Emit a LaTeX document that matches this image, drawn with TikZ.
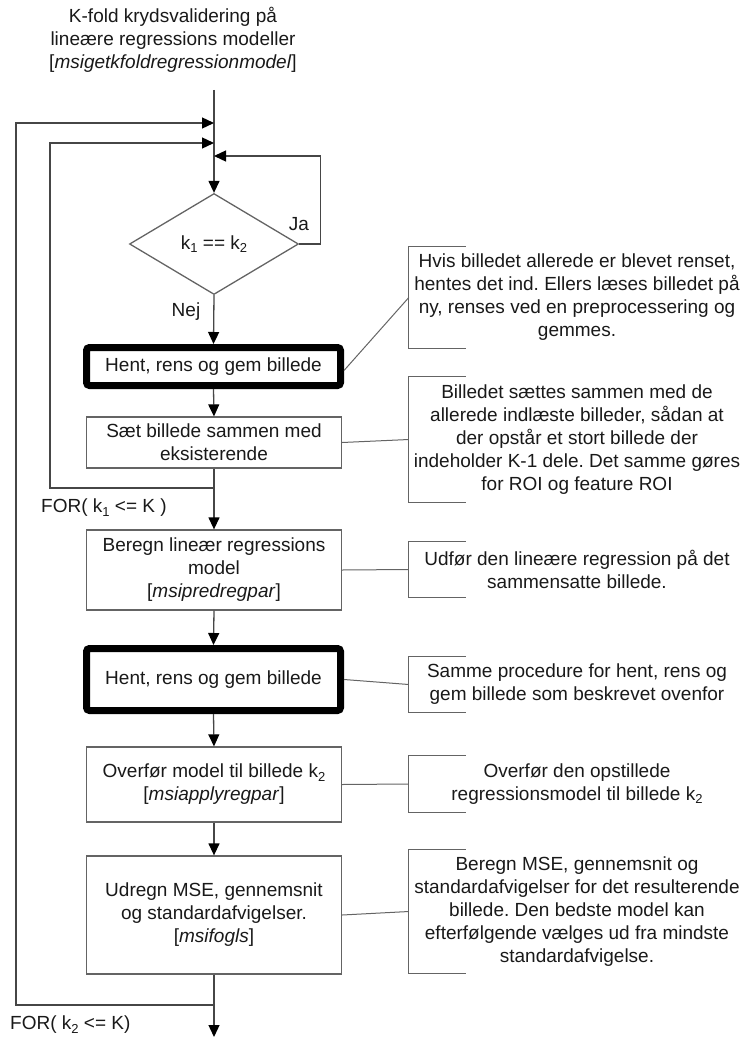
\documentclass[tikz,border=0pt]{standalone}
\usepackage{fontspec}
\setmainfont{Liberation Sans}
\usetikzlibrary{arrows.meta,shapes.geometric}
\definecolor{linegray}{RGB}{70,70,70}
\definecolor{boxgray}{RGB}{100,100,100}
% lowered index, as in k_1
\newcommand{\lowidx}[1]{\raisebox{-0.35ex}{\fontsize{13}{13}\selectfont #1}}
\frenchspacing

\begin{document}
\begin{tikzpicture}[x=1pt,y=-1pt,
  every node/.style={font=\fontsize{19}{23}\selectfont, text=black!90},
  procbox/.style={draw=boxgray, line width=1.3pt, fill=white, minimum width=255pt, align=center, inner sep=2pt},
  heavybox/.style={draw=black, line width=7pt, rounded corners=3pt, fill=white, minimum width=254pt, align=center},
  decision/.style={diamond, draw=boxgray, line width=1.3pt, minimum width=169pt, minimum height=101pt, aspect=1.67, inner sep=0pt},
  note/.style={minimum width=336pt, align=center, inner sep=0pt},
  flow/.style={draw=linegray, line width=1.3pt, -{Triangle[length=12pt,width=11pt,color=black]}},
  thinline/.style={draw=boxgray, line width=1pt},
]
\useasboundingbox (0,0) rectangle (746,1038);

% title
\node[align=center] (title) at (173,40) {K-fold krydsvalidering på\\lineære regressions modeller\\{[}\textit{msigetkfoldregressionmodel}{]}};

% main column
\coordinate (start) at (214,90);
\node[decision] (dec) at (214,244) {k\lowidx{1} == k\lowidx{2}};
\node[heavybox, minimum height=38pt] (fetchA) at (213.5,366.5) {Hent, rens og gem billede};
\node[procbox, minimum height=51pt] (merge) at (214,442.5) {Sæt billede sammen med\\eksisterende};
\node[procbox, minimum height=80pt] (regress) at (214,570) {Beregn lineær regressions\\model\\{[}\textit{msipredregpar}{]}};
\node[heavybox, minimum height=62pt] (fetchB) at (213.5,679.5) {Hent, rens og gem billede};
\node[procbox, minimum height=75pt] (apply) at (214,784.5) {Overfør model til billede k\lowidx{2}\\{[}\textit{msiapplyregpar}{]}};
\node[procbox, minimum height=118pt] (stats) at (214,915) {Udregn MSE, gennemsnit\\og standardafvigelser.\\{[}\textit{msifogls}{]}};
\coordinate (endpt) at (214,1037);

% loop junctions on the main line
\coordinate (in1) at (214,123);
\coordinate (in2) at (214,143);
\coordinate (in3) at (214,156);
\coordinate (join1) at (214,488);
\coordinate (join2) at (214,1005);

% labels
\node (yes) at (299,224) {Ja};
\node (no) at (186,312) {Nej};
\node[anchor=west, inner sep=0pt] (loop1) at (41,508) {FOR( k\lowidx{1} <= K )};
\node[anchor=west, inner sep=0pt] (loop2) at (10,1025) {FOR( k\lowidx{2} <= K)};

% flow connectors
\draw[flow] (start) -- (dec.north);
\draw[flow] (dec.south) -- (fetchA.north);
\draw[flow] (fetchA.south) -- (merge.north);
\draw[flow] (merge.south) -- (regress.north);
\draw[flow] (regress.south) -- (fetchB.north);
\draw[flow] (fetchB.south) -- (apply.north);
\draw[flow] (apply.south) -- (stats.north);
\draw[flow] (stats.south) -- (endpt);

% loops
\draw[flow] (dec.east) -- ++(21,0) |- (in3);
\draw[flow] (join1) -- ++(-164,0) |- (in2);
\draw[flow] (join2) -- ++(-198,0) |- (in1);

% annotations
\node[note, minimum height=101pt] (noteA) at (577,297.5) {Hvis billedet allerede er blevet renset,\\hentes det ind. Ellers læses billedet på\\ny, renses ved en preprocessering og\\gemmes.};
\node[note, minimum height=125pt] (noteB) at (577,439.5) {Billedet sættes sammen med de\\allerede indlæste billeder, sådan at\\der opstår et stort billede der\\indeholder K-1 dele. Det samme gøres\\for ROI og feature ROI};
\node[note, minimum height=55pt] (noteC) at (577,569.5) {Udfør den lineære regression på det\\sammensatte billede.};
\node[note, minimum height=55pt] (noteD) at (577,684.5) {Samme procedure for hent, rens og\\gem billede som beskrevet ovenfor};
\node[note, minimum height=56pt] (noteE) at (577,784) {Overfør den opstillede\\regressionsmodel til billede k\lowidx{2}};
\node[note, minimum height=123pt] (noteF) at (577,911.5) {Beregn MSE, gennemsnit og\\standardafvigelser for det resulterende\\billede. Den bedste model kan\\efterfølgende vælges ud fra mindste\\standardafvigelse.};

\foreach \n in {noteA,noteB,noteC,noteD,noteE,noteF}
  \draw[thinline] ([xshift=57pt]\n.north west) -- (\n.north west) -- (\n.south west) -- ([xshift=57pt]\n.south west);

\draw[thinline] ([yshift=-4pt]fetchA.east) -- (noteA.west);
\draw[thinline] (merge.east) -- (noteB.west);
\draw[thinline] (regress.east) -- (noteC.west);
\draw[thinline] (fetchB.east) -- (noteD.west);
\draw[thinline] (apply.east) -- (noteE.west);
\draw[thinline] (stats.east) -- (noteF.west);
\end{tikzpicture}
\end{document}
